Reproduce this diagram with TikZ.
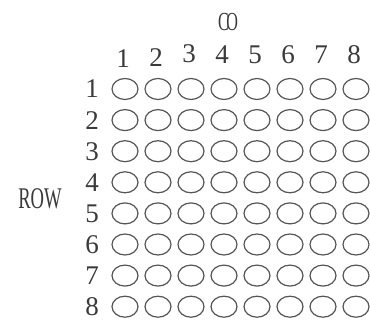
\documentclass[tikz,border=0pt]{standalone}
\usepackage{fontspec}
\setmainfont{Liberation Serif}
\usetikzlibrary{shapes.geometric}
\definecolor{ink}{HTML}{3A3A3A}
\definecolor{ring}{HTML}{555555}
\tikzset{
  led/.style={ellipse, draw=ring, line width=1.2pt, minimum width=26pt, minimum height=21pt, inner sep=0pt},
  lbl/.style={text=ink, font=\fontsize{27}{27}\selectfont, inner sep=0pt, anchor=center},
  title/.style={text=ink, font=\fontsize{30}{30}\selectfont, inner sep=0pt, xscale=0.62}
}
\begin{document}
\begin{tikzpicture}[x=1pt,y=1pt]
\useasboundingbox[fill=white] (0,0) rectangle (370,321);
\node[title, font=\fontsize{26}{26}\selectfont] (co) at (228,299) {C\kern-4ptO};
\foreach \c/\dy in {1/-4,2/-3,3/1,4/0,5/0,6/0,7/0,8/0} {
  \node[lbl] (h\c) at ({123+33*(\c-1)},{266+\dy}) {\c};
}
\foreach \r in {1,...,8} {
  \node[lbl] (r\r) at (92,{232-31.1*(\r-1)}) {\r};
  \foreach \c in {1,...,8} {
    \node[led] (l\r-\c) at ({125+33*(\c-1)},{232-31.1*(\r-1)}) {};
  }
}
\node[title] (row) at (40,122) {ROW};
\end{tikzpicture}
\end{document}
